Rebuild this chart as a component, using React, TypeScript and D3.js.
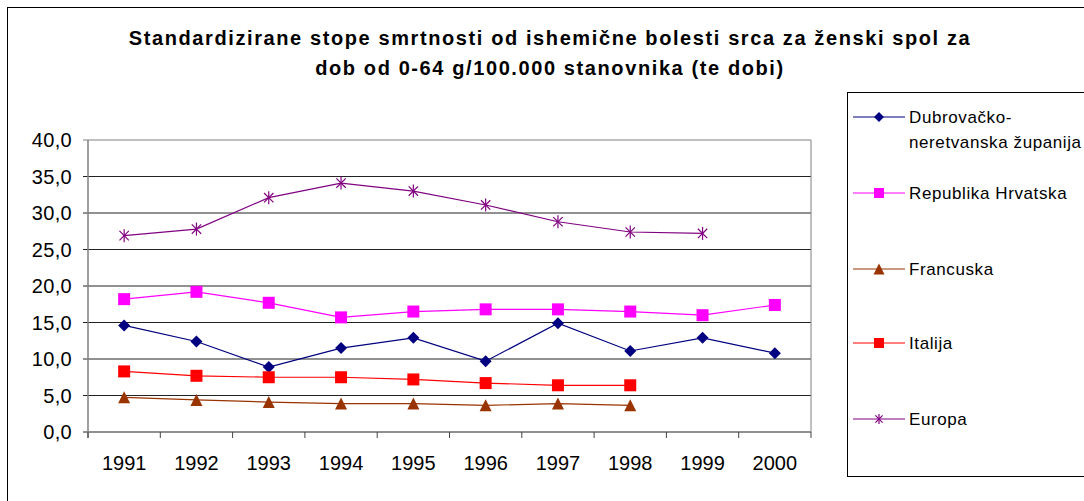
import React from "react";
import * as d3 from "d3";

const years = ["1991", "1992", "1993", "1994", "1995", "1996", "1997", "1998", "1999", "2000"];
const dubrovnik = [14.6, 12.4, 8.9, 11.5, 12.9, 9.7, 14.9, 11.1, 12.9, 10.8];
const hrvatska = [18.2, 19.2, 17.7, 15.7, 16.5, 16.8, 16.8, 16.5, 16.0, 17.4];
const francuska = [4.75, 4.4, 4.1, 3.9, 3.9, 3.65, 3.9, 3.65, null, null];
const italija = [8.3, 7.7, 7.5, 7.5, 7.2, 6.7, 6.4, 6.4, null, null];
const europa = [26.9, 27.8, 32.1, 34.1, 33.0, 31.1, 28.8, 27.4, 27.2, null];
const yTicks = [0, 5, 10, 15, 20, 25, 30, 35, 40];

const titleLines = [
  "Standardizirane stope smrtnosti od ishemične bolesti srca za ženski spol za",
  "dob od 0-64 g/100.000 stanovnika (te dobi)",
];

type Series = { name: string[]; values: (number | null)[]; color: string; marker: string };

const series: Series[] = [
  { name: ["Dubrovačko-", "neretvanska županija"], values: dubrovnik, color: "#000080", marker: "diamond" },
  { name: ["Republika Hrvatska"], values: hrvatska, color: "#ff00ff", marker: "square" },
  { name: ["Francuska"], values: francuska, color: "#993300", marker: "triangle" },
  { name: ["Italija"], values: italija, color: "#ff0000", marker: "square" },
  { name: ["Europa"], values: europa, color: "#800080", marker: "star" },
];

const font = "Arial, 'Liberation Sans', sans-serif";

function Marker({ type, color, x, y, size = 12 }: { type: string; color: string; x: number; y: number; size?: number }) {
  const h = size / 2;
  if (type === "square") return <rect x={x - h} y={y - h} width={size} height={size} fill={color} />;
  if (type === "diamond")
    return <path d={`M${x},${y - h}L${x + h},${y}L${x},${y + h}L${x - h},${y}Z`} fill={color} />;
  if (type === "triangle")
    return <path d={`M${x},${y - h}L${x + h},${y + h}L${x - h},${y + h}Z`} fill={color} />;
  const r = h;
  const d = r * 0.72;
  return (
    <g stroke={color} strokeWidth={1.2}>
      <line x1={x} y1={y - r} x2={x} y2={y + r} />
      <line x1={x - d} y1={y - d} x2={x + d} y2={y + d} />
      <line x1={x - d} y1={y + d} x2={x + d} y2={y - d} />
    </g>
  );
}

export default function App() {
  const width = 1084;
  const height = 501;
  const plot = { left: 88, right: 811, top: 140, bottom: 432 };

  const x = d3.scaleBand().domain(years).range([plot.left, plot.right]);
  const y = d3.scaleLinear().domain([0, 40]).range([plot.bottom, plot.top]);
  const cx = (yr: string) => (x(yr) ?? 0) + x.bandwidth() / 2;

  const line = d3
    .line<number | null>()
    .defined((d) => d != null)
    .x((_, i) => cx(years[i]))
    .y((d) => y(d as number));

  const legendY = [117, 193, 269, 343, 419];
  const markerSize: Record<string, number> = { square: 12, diamond: 12, triangle: 12, star: 13 };

  return (
    <svg width={width} height={height} style={{ position: "absolute", left: 0, top: 0, background: "#fff" }} fontFamily={font}>
      <rect x={7.5} y={7.5} width={1090} height={500} fill="#fff" stroke="#000" strokeWidth={1} />

      {titleLines.map((t, i) => (
        <text key={i} x={550} y={45 + i * 30} textAnchor="middle" fontSize={20} fontWeight="bold" letterSpacing={1.6}>
          {t}
        </text>
      ))}

      {yTicks.map((t) => (
        <g key={t}>
          <line x1={plot.left - 5} x2={plot.right} y1={y(t)} y2={y(t)} stroke={t === 40 ? "#808080" : "#222"} strokeWidth={1} />
          <text x={72} y={y(t) + 7} textAnchor="end" fontSize={20} letterSpacing={0.3}>
            {d3.format(".1f")(t).replace(".", ",")}
          </text>
        </g>
      ))}

      <line x1={plot.left} x2={plot.left} y1={plot.top} y2={plot.bottom + 6} stroke="#808080" strokeWidth={1.5} />
      <line x1={plot.right} x2={plot.right} y1={plot.top} y2={plot.bottom} stroke="#808080" strokeWidth={1} />

      {years.map((yr) => (
        <g key={yr}>
          <line x1={x(yr)!} x2={x(yr)!} y1={plot.bottom} y2={plot.bottom + 6} stroke="#444" />
          <text x={cx(yr)} y={470} textAnchor="middle" fontSize={20}>
            {yr}
          </text>
        </g>
      ))}
      <line x1={plot.right} x2={plot.right} y1={plot.bottom} y2={plot.bottom + 6} stroke="#444" />

      {series.map((s) => (
        <g key={s.name.join("")}>
          <path d={line(s.values) ?? ""} fill="none" stroke={s.color} strokeWidth={1.2} />
          {s.values.map((v, i) =>
            v == null ? null : (
              <Marker key={i} type={s.marker} color={s.color} x={cx(years[i])} y={y(v)} size={markerSize[s.marker]} />
            )
          )}
        </g>
      ))}

      <rect x={847.5} y={92.5} width={260} height={384} fill="#fff" stroke="#000" strokeWidth={1} />
      {series.map((s, i) => (
        <g key={i}>
          <line x1={853} x2={905} y1={legendY[i]} y2={legendY[i]} stroke={s.color} strokeWidth={1.2} />
          <Marker type={s.marker} color={s.color} x={879} y={legendY[i]} size={s.marker === "triangle" ? 11 : 10} />
          {s.name.map((n, j) => (
            <text key={j} x={909} y={legendY[i] + 6 + j * 25} fontSize={17} letterSpacing={0.6}>
              {n}
            </text>
          ))}
        </g>
      ))}
    </svg>
  );
}
